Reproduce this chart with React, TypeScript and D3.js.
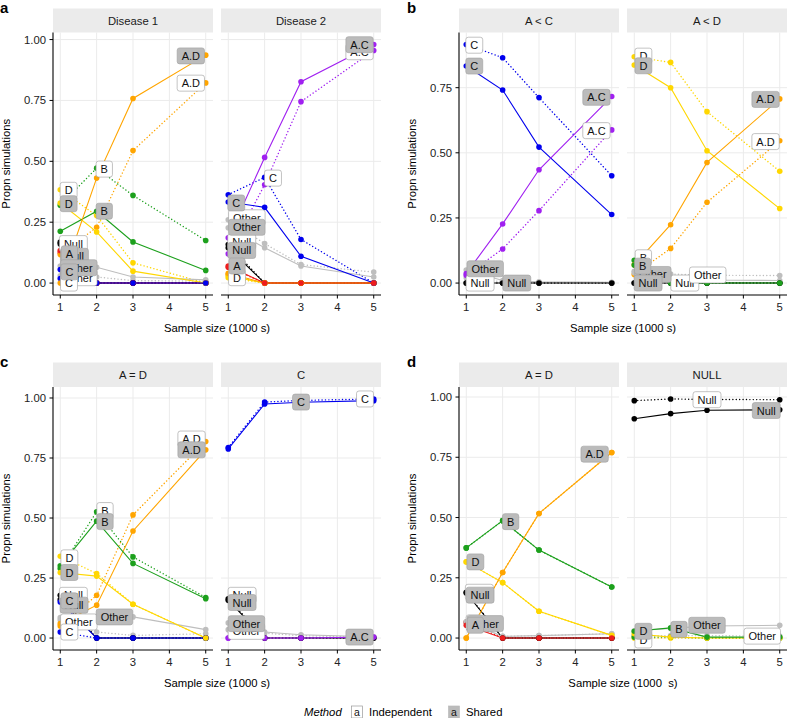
import React from "react";
import * as d3 from "d3";

const SAMPLE_SIZES = [1, 2, 3, 5];
const X_TICKS = [1, 2, 3, 4, 5];
const Y_TICKS = [0, 0.25, 0.5, 0.75, 1];
const METHODS = ["Independent", "Shared"];

const SERIES_COLORS: Record<string, string> = {
  A: "#ee1c1c",
  B: "#1ca01c",
  C: "#0000ee",
  D: "#ffd700",
  "A.D": "#ffa500",
  "A.C": "#a020f0",
  Null: "#000000",
  Other: "#bebebe",
};

type Series = [string, number[]];
type Label = [string, string, number, number];

// ---- panel a : Disease 1
const DIS1_SHARED: Series[] = [
  ["Other", [0.07, 0.065, 0.025, 0.013]],
  ["Null", [0.168, 0, 0, 0]],
  ["A", [0.134, 0, 0, 0]],
  ["D", [0.329, 0.21, 0.049, 0]],
  ["B", [0.213, 0.295, 0.169, 0.052]],
  ["A.D", [0.0, 0.431, 0.758, 0.936]],
  ["C", [0.056, 0, 0, 0]],
];
const DIS1_INDEP: Series[] = [
  ["Other", [0.03, 0.025, 0.01, 0.008]],
  ["Null", [0.16, 0, 0, 0]],
  ["A", [0.125, 0, 0, 0]],
  ["D", [0.383, 0.277, 0.083, 0]],
  ["B", [0.32, 0.472, 0.36, 0.175]],
  ["A.D", [0.117, 0.229, 0.544, 0.822]],
  ["C", [0.019, 0, 0, 0]],
];
const DIS1_LABELS: Label[] = [
  ["I", "A.D", 4.59, 0.821],
  ["I", "B", 2.21, 0.468],
  ["I", "D", 1.23, 0.381],
  ["I", "Null", 1.36, 0.162],
  ["I", "Other", 1.51, 0.022],
  ["I", "C", 1.24, 0.0],
  ["S", "A.D", 4.59, 0.933],
  ["S", "B", 2.21, 0.295],
  ["S", "D", 1.23, 0.326],
  ["S", "Null", 1.39, 0.11],
  ["S", "A", 1.25, 0.12],
  ["S", "Other", 1.51, 0.063],
  ["S", "C", 1.25, 0.046],
];

// ---- panel a : Disease 2
const DIS2_SHARED: Series[] = [
  ["Other", [0.227, 0.145, 0.07, 0.025]],
  ["Null", [0.145, 0, 0, 0]],
  ["D", [0.03, 0, 0, 0]],
  ["A.D", [0.04, 0, 0, 0]],
  ["C", [0.333, 0.311, 0.11, 0]],
  ["A.C", [0.186, 0.516, 0.827, 0.98]],
  ["A", [0.07, 0, 0, 0]],
];
const DIS2_INDEP: Series[] = [
  ["Other", [0.26, 0.162, 0.076, 0.045]],
  ["Null", [0.158, 0, 0, 0]],
  ["D", [0.022, 0, 0, 0]],
  ["A.D", [0.035, 0, 0, 0]],
  ["C", [0.363, 0.434, 0.179, 0]],
  ["A.C", [0.12, 0.404, 0.745, 0.955]],
  ["A", [0.065, 0, 0, 0]],
];
const DIS2_LABELS: Label[] = [
  ["I", "A.C", 4.61, 0.95],
  ["I", "C", 2.23, 0.431],
  ["I", "Other", 1.51, 0.268],
  ["I", "Null", 1.37, 0.17],
  ["I", "D", 1.24, 0.022],
  ["S", "A.C", 4.61, 0.979],
  ["S", "C", 1.22, 0.329],
  ["S", "Other", 1.51, 0.229],
  ["S", "Null", 1.37, 0.134],
  ["S", "A", 1.24, 0.07],
];

// ---- panel b : A < C
const AC_SHARED: Series[] = [
  ["Other", [0.05, 0.01, 0.005, 0.003]],
  ["C", [0.833, 0.741, 0.522, 0.263]],
  ["A.C", [0.037, 0.227, 0.435, 0.716]],
  ["Null", [0, 0, 0, 0]],
];
const AC_INDEP: Series[] = [
  ["Other", [0.02, 0.005, 0.002, 0.002]],
  ["C", [0.916, 0.865, 0.712, 0.412]],
  ["A.C", [0.03, 0.131, 0.278, 0.588]],
  ["Null", [0, 0, 0, 0]],
];
const AC_LABELS: Label[] = [
  ["I", "C", 1.22, 0.913],
  ["I", "A.C", 4.58, 0.585],
  ["I", "Null", 1.38, 0.0],
  ["S", "C", 1.22, 0.833],
  ["S", "A.C", 4.58, 0.713],
  ["S", "Other", 1.52, 0.055],
  ["S", "Null", 2.39, 0.0],
];

// ---- panel b : A < D
const AD_SHARED: Series[] = [
  ["Other", [0.04, 0.02, 0.012, 0.01]],
  ["Null", [0, 0, 0, 0]],
  ["D", [0.837, 0.75, 0.508, 0.286]],
  ["A.D", [0.07, 0.224, 0.463, 0.707]],
  ["B", [0.069, 0, 0, 0]],
];
const AD_INDEP: Series[] = [
  ["Other", [0.045, 0.035, 0.03, 0.029]],
  ["Null", [0, 0, 0, 0]],
  ["D", [0.869, 0.847, 0.658, 0.429]],
  ["A.D", [0.033, 0.133, 0.31, 0.546]],
  ["B", [0.087, 0, 0, 0]],
];
const AD_LABELS: Label[] = [
  ["I", "D", 1.25, 0.871],
  ["I", "A.D", 4.61, 0.543],
  ["I", "B", 1.25, 0.097],
  ["I", "Null", 2.39, 0.0],
  ["I", "Other", 3.02, 0.031],
  ["S", "D", 1.25, 0.834],
  ["S", "A.D", 4.61, 0.705],
  ["S", "Other", 1.51, 0.033],
  ["S", "B", 1.23, 0.065],
  ["S", "Null", 1.38, 0.0],
];

// ---- panel c : A = D
const CAD_SHARED: Series[] = [
  ["Other", [0.075, 0.09, 0.088, 0.035]],
  ["Null", [0.16, 0, 0, 0]],
  ["C", [0.15, 0, 0, 0]],
  ["A.D", [0.06, 0.137, 0.446, 0.784]],
  ["B", [0.301, 0.487, 0.311, 0.164]],
  ["D", [0.273, 0.258, 0.141, 0]],
];
const CAD_INDEP: Series[] = [
  ["Other", [0.085, 0.025, 0.011, 0.018]],
  ["Null", [0.178, 0, 0, 0]],
  ["C", [0.025, 0, 0, 0]],
  ["A.D", [0.05, 0.178, 0.513, 0.819]],
  ["B", [0.29, 0.526, 0.338, 0.169]],
  ["D", [0.341, 0.269, 0.141, 0]],
];
const CAD_LABELS: Label[] = [
  ["I", "A.D", 4.61, 0.829],
  ["I", "B", 2.23, 0.531],
  ["I", "D", 1.25, 0.334],
  ["I", "Null", 1.36, 0.178],
  ["I", "Other", 1.51, 0.067],
  ["I", "C", 1.25, 0.025],
  ["S", "A.D", 4.61, 0.784],
  ["S", "B", 2.23, 0.485],
  ["S", "D", 1.25, 0.273],
  ["S", "Null", 1.38, 0.137],
  ["S", "C", 1.25, 0.155],
  ["S", "Other", 2.49, 0.088],
];

// ---- panel c : C
const CC_SHARED: Series[] = [
  ["Other", [0.063, 0.025, 0.014, 0.005]],
  ["Null", [0.157, 0, 0, 0]],
  ["C", [0.788, 0.975, 0.982, 0.989]],
  ["A.C", [0, 0, 0, 0.004]],
];
const CC_INDEP: Series[] = [
  ["Other", [0.035, 0.02, 0.01, 0.003]],
  ["Null", [0.164, 0, 0, 0]],
  ["C", [0.794, 0.983, 0.99, 0.996]],
  ["A.C", [0, 0, 0, 0.002]],
];
const CC_LABELS: Label[] = [
  ["I", "C", 4.76, 0.996],
  ["I", "Null", 1.38, 0.178],
  ["I", "Other", 1.5, 0.028],
  ["S", "C", 3.0, 0.983],
  ["S", "Null", 1.38, 0.148],
  ["S", "Other", 1.5, 0.06],
  ["S", "A.C", 4.61, 0.004],
];

// ---- panel d : A = D
const DAD_SHARED: Series[] = [
  ["Other", [0.067, 0.007, 0.01, 0.018]],
  ["Null", [0.187, 0, 0, 0]],
  ["D", [0.316, 0.23, 0.111, 0.011]],
  ["B", [0.374, 0.487, 0.365, 0.212]],
  ["A.D", [0, 0.272, 0.517, 0.77]],
  ["A", [0.053, 0, 0, 0]],
];
const DAD_INDEP: Series[] = [
  ["Other", [0.067, 0.007, 0.01, 0.018]],
  ["Null", [0.19, 0, 0, 0]],
  ["D", [0.316, 0.23, 0.111, 0.011]],
  ["B", [0.374, 0.487, 0.365, 0.212]],
  ["A.D", [0, 0.272, 0.517, 0.77]],
  ["A", [0.065, 0, 0, 0]],
];
const DAD_LABELS: Label[] = [
  ["I", "Null", 1.36, 0.19],
  ["I", "A", 1.22, 0.063],
  ["S", "A.D", 4.53, 0.763],
  ["S", "B", 2.22, 0.483],
  ["S", "D", 1.25, 0.316],
  ["S", "Null", 1.38, 0.178],
  ["S", "Other", 1.52, 0.06],
  ["S", "A", 1.25, 0.053],
];

// ---- panel d : NULL
const NULL_SHARED: Series[] = [
  ["Other", [0.03, 0.04, 0.05, 0.053]],
  ["D", [0.018, 0.004, 0, 0]],
  ["B", [0.028, 0.042, 0.004, 0.004]],
  ["Null", [0.91, 0.931, 0.945, 0.947]],
];
const NULL_INDEP: Series[] = [
  ["Other", [0.01, 0.01, 0.01, 0.008]],
  ["D", [0, 0, 0, 0]],
  ["B", [0.004, 0.004, 0, 0]],
  ["Null", [0.985, 0.992, 0.99, 0.989]],
];
const NULL_LABELS: Label[] = [
  ["I", "Null", 3.0, 0.989],
  ["I", "D", 1.25, -0.008],
  ["I", "Other", 4.52, 0.008],
  ["S", "Null", 4.63, 0.944],
  ["S", "D", 1.25, 0.028],
  ["S", "B", 2.23, 0.036],
  ["S", "Other", 3.0, 0.053],
];

// ---- layout
const FONT = "'Liberation Sans', Arial, Helvetica, sans-serif";
const ROWS = [
  { stripTop: 8.5, top: 32.5, bottom: 295 },
  { stripTop: 362.5, top: 387, bottom: 650 },
];
const COL_LEFT = [53, 459];
const FACET_W = 160;
const FACET_GAP = 8;
const TXT = 11.3;
const LABEL_TXT = 11;

interface Facet { title: string; shared: Series[]; indep: Series[]; labels: Label[] }
interface PanelSpec { tag: string; row: number; col: number; xTitle: string; facets: Facet[] }

const PANELS: PanelSpec[] = [
  { tag: "a", row: 0, col: 0, xTitle: "Sample size (1000 s)", facets: [
    { title: "Disease 1", shared: DIS1_SHARED, indep: DIS1_INDEP, labels: DIS1_LABELS },
    { title: "Disease 2", shared: DIS2_SHARED, indep: DIS2_INDEP, labels: DIS2_LABELS },
  ] },
  { tag: "b", row: 0, col: 1, xTitle: "Sample size (1000 s)", facets: [
    { title: "A < C", shared: AC_SHARED, indep: AC_INDEP, labels: AC_LABELS },
    { title: "A < D", shared: AD_SHARED, indep: AD_INDEP, labels: AD_LABELS },
  ] },
  { tag: "c", row: 1, col: 0, xTitle: "Sample size (1000 s)", facets: [
    { title: "A = D", shared: CAD_SHARED, indep: CAD_INDEP, labels: CAD_LABELS },
    { title: "C", shared: CC_SHARED, indep: CC_INDEP, labels: CC_LABELS },
  ] },
  { tag: "d", row: 1, col: 1, xTitle: "Sample size (1000  s)", facets: [
    { title: "A = D", shared: DAD_SHARED, indep: DAD_INDEP, labels: DAD_LABELS },
    { title: "NULL", shared: NULL_SHARED, indep: NULL_INDEP, labels: NULL_LABELS },
  ] },
];

let _ctx: CanvasRenderingContext2D | null = null;
function measure(s: string, size: number): number {
  if (!_ctx) _ctx = document.createElement("canvas").getContext("2d");
  if (!_ctx) return s.length * size * 0.6;
  _ctx.font = `${size}px 'Liberation Sans', Arial, sans-serif`;
  return _ctx.measureText(s).width;
}

function FacetView({ f, i, left, row, y, yTicks }: { f: Facet; i: number; left: number; row: typeof ROWS[0]; y: d3.ScaleLinear<number, number>; yTicks: number[] }) {
  const x0 = left + i * (FACET_W + FACET_GAP);
  const x = d3.scaleLinear().domain([0.8, 5.2]).range([x0, x0 + FACET_W]);
  const line = d3.line<number>().x((_, k) => x(SAMPLE_SIZES[k])).y((v) => y(v));
  const groups: { s: Series; dotted: boolean }[] = [
    ...f.indep.map((s) => ({ s, dotted: true })),
    ...f.shared.map((s) => ({ s, dotted: false })),
  ];
  return (
    <g>
      <rect x={x0} y={row.stripTop} width={FACET_W} height={row.top - row.stripTop} fill="#ebebeb" />
      <text x={x0 + FACET_W / 2} y={(row.stripTop + row.top) / 2 + 4} textAnchor="middle" fontSize={TXT} fill="#1a1a1a">{f.title}</text>
      {yTicks.map((t) => (
        <line key={"gy" + t} x1={x0} x2={x0 + FACET_W} y1={y(t)} y2={y(t)} stroke="#ebebeb" strokeWidth={1} />
      ))}
      {X_TICKS.map((t) => (
        <line key={"gx" + t} x1={x(t)} x2={x(t)} y1={row.top} y2={row.bottom} stroke="#ebebeb" strokeWidth={1} />
      ))}
      {groups.map((g, k) => (
        <path key={"l" + k} d={line(g.s[1]) || ""} fill="none" stroke={SERIES_COLORS[g.s[0]]}
          strokeWidth={g.dotted ? 1.4 : 1.1}
          strokeDasharray={g.dotted ? "0.1 3.3" : undefined} strokeLinecap={g.dotted ? "round" : "butt"} />
      ))}
      {groups.map((g, k) => g.s[1].map((v, j) => (
        <circle key={"p" + k + "-" + j} cx={x(SAMPLE_SIZES[j])} cy={y(v)} r={2.8} fill={SERIES_COLORS[g.s[0]]} />
      )))}
      <line x1={x0} x2={x0 + FACET_W} y1={row.bottom} y2={row.bottom} stroke="#000" strokeWidth={1.1} />
      {i === 0 && <line x1={x0} x2={x0} y1={row.top} y2={row.bottom} stroke="#000" strokeWidth={1.1} />}
      {X_TICKS.map((t) => (
        <g key={"xt" + t}>
          <line x1={x(t)} x2={x(t)} y1={row.bottom} y2={row.bottom + 3.5} stroke="#000" strokeWidth={1} />
          <text x={x(t)} y={row.bottom + 16} textAnchor="middle" fontSize={TXT} fill="#222">{t}</text>
        </g>
      ))}
      {i === 0 && yTicks.map((t) => (
        <g key={"yt" + t}>
          <line x1={x0 - 3.5} x2={x0} y1={y(t)} y2={y(t)} stroke="#000" strokeWidth={1} />
          <text x={x0 - 7} y={y(t) + 4} textAnchor="end" fontSize={TXT} fill="#222">{t.toFixed(2)}</text>
        </g>
      ))}
      {f.labels.map((l, k) => {
        const tw = measure(l[1], LABEL_TXT);
        const w = tw + 9;
        const h = 16;
        const cx = x(l[2]);
        const cy = y(l[3]);
        const shared = l[0] === "S";
        return (
          <g key={"lab" + k}>
            <rect x={cx - w / 2} y={cy - h / 2} width={w} height={h} rx={2.5} fill={shared ? "#bbbbbb" : "#ffffff"} stroke={shared ? "#a0a0a0" : "#9a9a9a"} strokeWidth={0.6} />
            <text x={cx} y={cy + 4} textAnchor="middle" fontSize={LABEL_TXT} fill="#111">{l[1]}</text>
          </g>
        );
      })}
    </g>
  );
}

function Panel({ p }: { p: PanelSpec }) {
  const row = ROWS[p.row];
  const left = COL_LEFT[p.col];
  const vals = p.facets.flatMap((f) => [...f.shared, ...f.indep].flatMap((s) => s[1]));
  const max = d3.max(vals) || 1;
  const y = d3.scaleLinear().domain([-0.05 * max, max * 1.05]).range([row.bottom, row.top]);
  const yTicks = Y_TICKS.filter((t) => t <= max * 1.05);
  const width = 2 * FACET_W + FACET_GAP;
  return (
    <g>
      <text x={left - 53 + (p.col === 1 ? 1 : 0)} y={row.stripTop + 4} fontSize={15} fontWeight="bold" fill="#000">{p.tag}</text>
      {p.facets.map((f, i) => (
        <FacetView key={i} f={f} i={i} left={left} row={row} y={y} yTicks={yTicks} />
      ))}
      <text x={left + width / 2} y={row.bottom + 36.5} textAnchor="middle" fontSize={TXT} fill="#000" style={{ whiteSpace: "pre" }}>{p.xTitle}</text>
      <text transform={`translate(${left - 43},${(row.top + row.bottom) / 2}) rotate(-90)`} textAnchor="middle" fontSize={TXT} fill="#000">Propn simulations</text>
    </g>
  );
}

function Legend() {
  const cy = 712;
  return (
    <g fontSize={TXT}>
      <text x={304} y={cy + 4} fontStyle="italic" fill="#000">Method</text>
      <rect x={351.5} y={cy - 6} width={11} height={12} fill="#fff" stroke="#999" strokeWidth={0.7} />
      <text x={357} y={cy + 3.5} textAnchor="middle" fontSize={10.5} fill="#111">a</text>
      <text x={369} y={cy + 4} fill="#000">{METHODS[0]}</text>
      <rect x={448.5} y={cy - 6} width={11} height={12} fill="#bbbbbb" stroke="#bbbbbb" strokeWidth={0.7} />
      <text x={454} y={cy + 3.5} textAnchor="middle" fontSize={10.5} fill="#111">a</text>
      <text x={466} y={cy + 4} fill="#000">{METHODS[1]}</text>
    </g>
  );
}

export default function App() {
  return (
    <svg width={788} height={718} style={{ position: "absolute", left: 0, top: 0, fontFamily: FONT }}>
      <rect width={788} height={718} fill="#fff" />
      {PANELS.map((p) => (
        <Panel key={p.tag} p={p} />
      ))}
      <Legend />
    </svg>
  );
}
